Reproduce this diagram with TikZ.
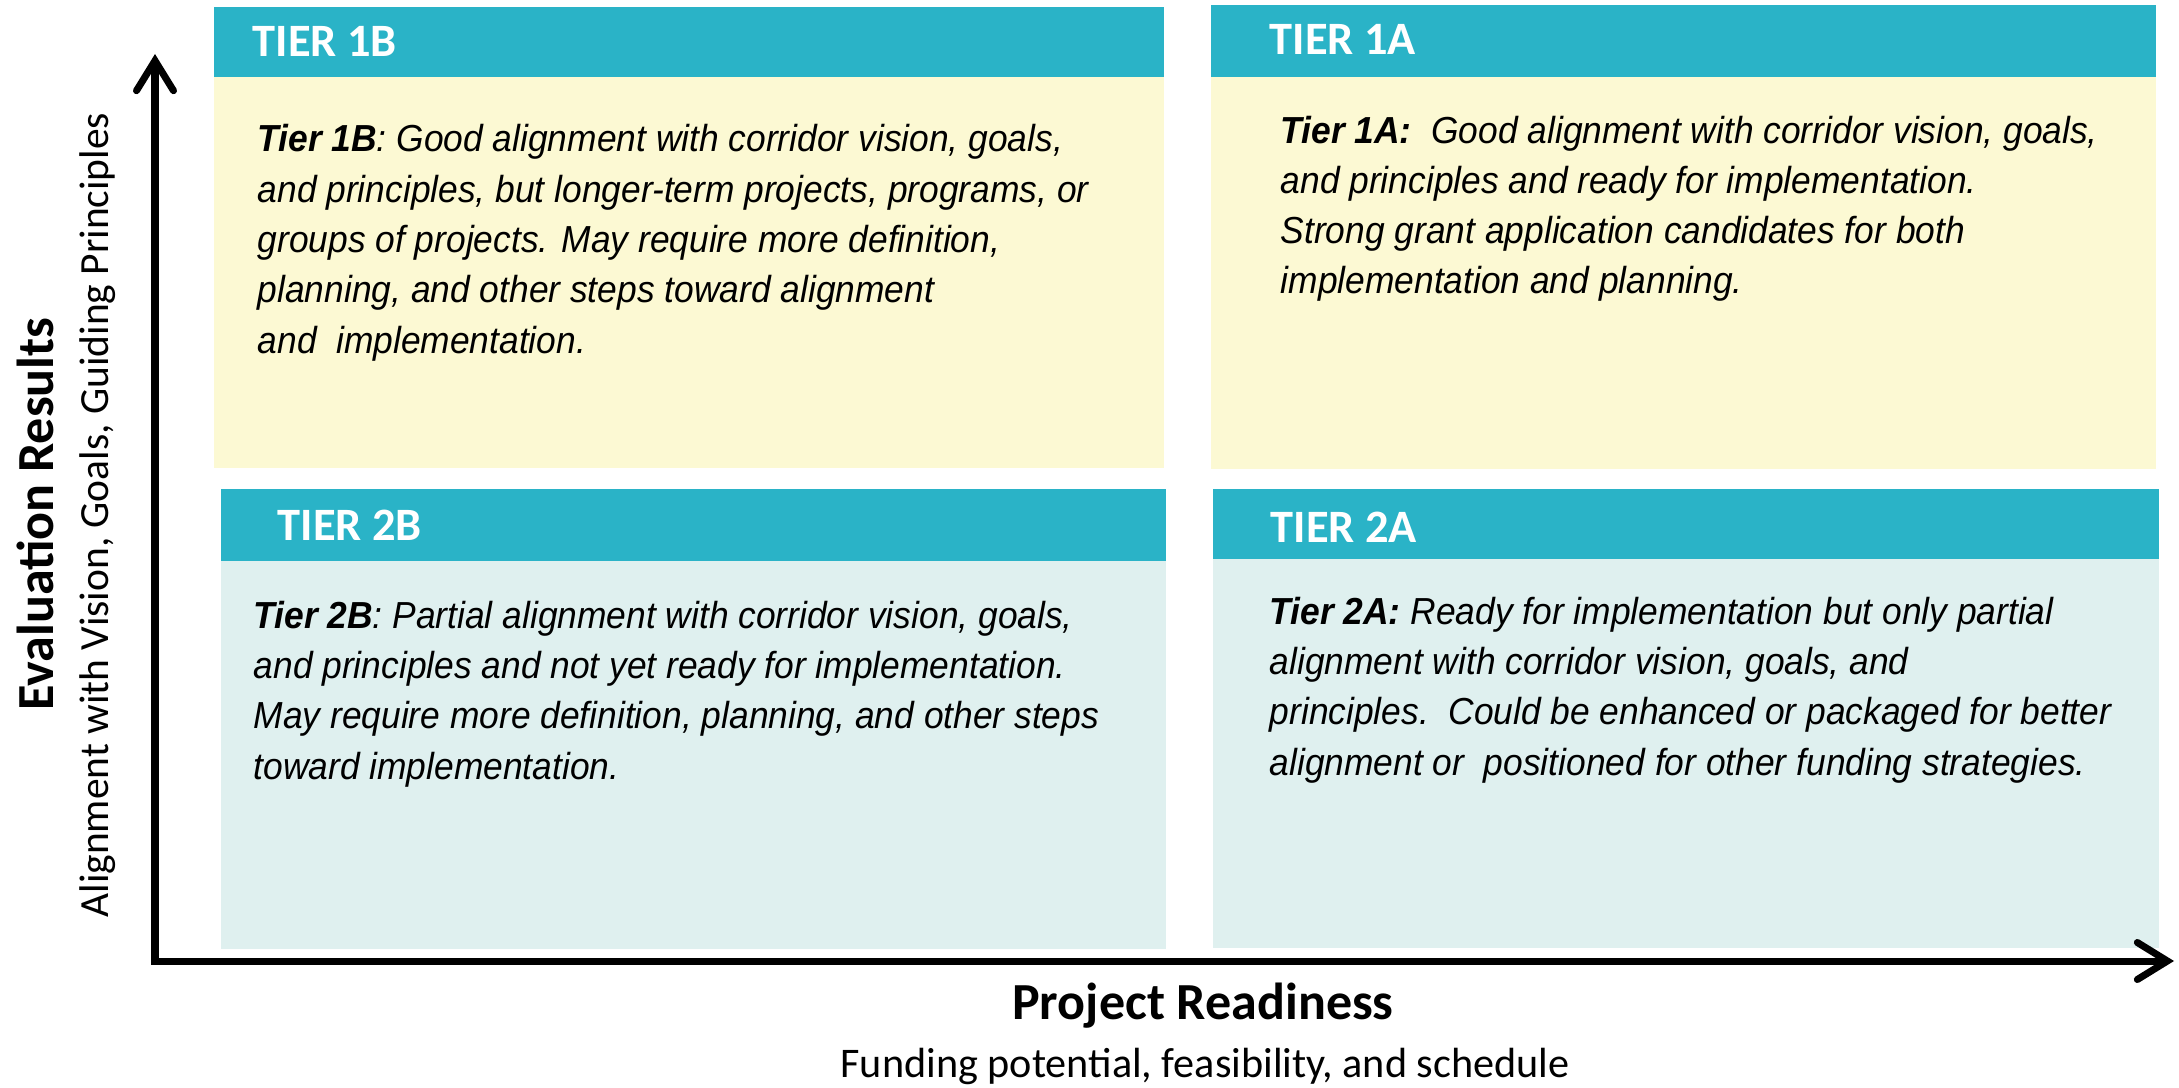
\documentclass[tikz,border=0pt]{standalone}
\usepackage{fontspec}
\setmainfont{Liberation Sans}
\newfontfamily\bodyfont[FakeStretch=0.94]{Liberation Sans}
\newfontfamily\calibri{Carlito}
\usetikzlibrary{arrows.meta}

\definecolor{tierteal}{HTML}{2AB3C7}
\definecolor{tieryellow}{HTML}{FCF9D3}
\definecolor{tierpale}{HTML}{DFF0EF}

\tikzset{
    headbar/.style={fill=tierteal, anchor=north west, inner sep=0pt},
    bodybox/.style={anchor=north west, inner sep=0pt},
    headtext/.style={anchor=base west, inner sep=0pt, text=white,
        font=\calibri\bfseries\fontsize{13.2}{15}\selectfont},
    bodytext/.style={anchor=base west, inner sep=0pt, align=left,
        font=\bodyfont\fontsize{10.7}{14.3}\selectfont\itshape},
    axisline/.style={line width=0.07cm,
        arrows={Straight Barb[length=0.3cm, width=0.37cm, line cap=round]-Straight Barb[length=0.3cm, width=0.37cm, line cap=round]}},
}

\begin{document}
\begin{tikzpicture}[x=0.01cm, y=-0.01cm]
    \useasboundingbox[fill=white] (0,0) rectangle (2179,1088);

    \node[headbar, minimum width=9.50cm, minimum height=0.70cm] (h1B) at (213,6) {};
    \node[bodybox, fill=tieryellow, minimum width=9.50cm, minimum height=3.91cm] (b1B) at (213,76) {};
    \node[headbar, minimum width=9.45cm, minimum height=0.72cm] (h1A) at (1210,4) {};
    \node[bodybox, fill=tieryellow, minimum width=9.45cm, minimum height=3.92cm] (b1A) at (1210,76) {};
    \node[headbar, minimum width=9.45cm, minimum height=0.72cm] (h2B) at (220,488) {};
    \node[bodybox, fill=tierpale, minimum width=9.45cm, minimum height=3.88cm] (b2B) at (220,560) {};
    \node[headbar, minimum width=9.46cm, minimum height=0.70cm] (h2A) at (1212,488) {};
    \node[bodybox, fill=tierpale, minimum width=9.46cm, minimum height=3.89cm] (b2A) at (1212,558) {};

    \node[headtext] (t1B) at (252,57) {TIER 1B};
    \node[headtext] (t1A) at (1269,55) {TIER 1A};
    \node[headtext] (t2B) at (277,540) {TIER 2B};
    \node[headtext] (t2A) at (1270,542) {TIER 2A};

    % base of a multi-line node = baseline of its last line
    \node[bodytext] (d1B) at (257,353) {\textbf{Tier 1B}: Good alignment with corridor vision, goals,\\
        and principles, but longer-term projects, programs, or\\
        groups of projects. May require more definition,\\
        planning, and other steps toward alignment\\
        and\ \ implementation.};
    \node[bodytext] (d1A) at (1280,294) {\textbf{Tier 1A:}\ \ Good alignment with corridor vision, goals,\\
        and principles and ready for implementation.\\
        Strong grant application candidates for both\\
        implementation and planning.};
    \node[bodytext] (d2B) at (253,779) {\textbf{Tier 2B}: Partial alignment with corridor vision, goals,\\
        and principles and not yet ready for implementation.\\
        May require more definition, planning, and other steps\\
        toward implementation.};
    \node[bodytext] (d2A) at (1269,775) {\textbf{Tier 2A:} Ready for implementation but only partial\\
        alignment with corridor vision, goals, and\\
        principles.\ \ Could be enhanced or packaged for better\\
        alignment or\ \ positioned for other funding strategies.};

    \coordinate (origin) at (155,961);
    \coordinate (ytip) at (155,54);
    \coordinate (xtip) at (2174,961);
    \draw[axisline] (ytip) -- (origin) -- (xtip);

    \node[rotate=90, anchor=base, font=\calibri\bfseries\fontsize{14.8}{17}\selectfont] (ylab) at (53,514) {Evaluation Results};
    \node[rotate=90, anchor=base, font=\calibri\fontsize{11.8}{14}\selectfont] (ysub) at (108,515) {Alignment with Vision,\ Goals,\ Guiding Principles};
    \node[anchor=base, font=\calibri\bfseries\fontsize{14.8}{17}\selectfont] (xlab) at (1203,1019) {Project Readiness};
    \node[anchor=base, font=\calibri\fontsize{12}{14}\selectfont] (xsub) at (1205,1077) {Funding potential, feasibility,\ and schedule};
\end{tikzpicture}
\end{document}
